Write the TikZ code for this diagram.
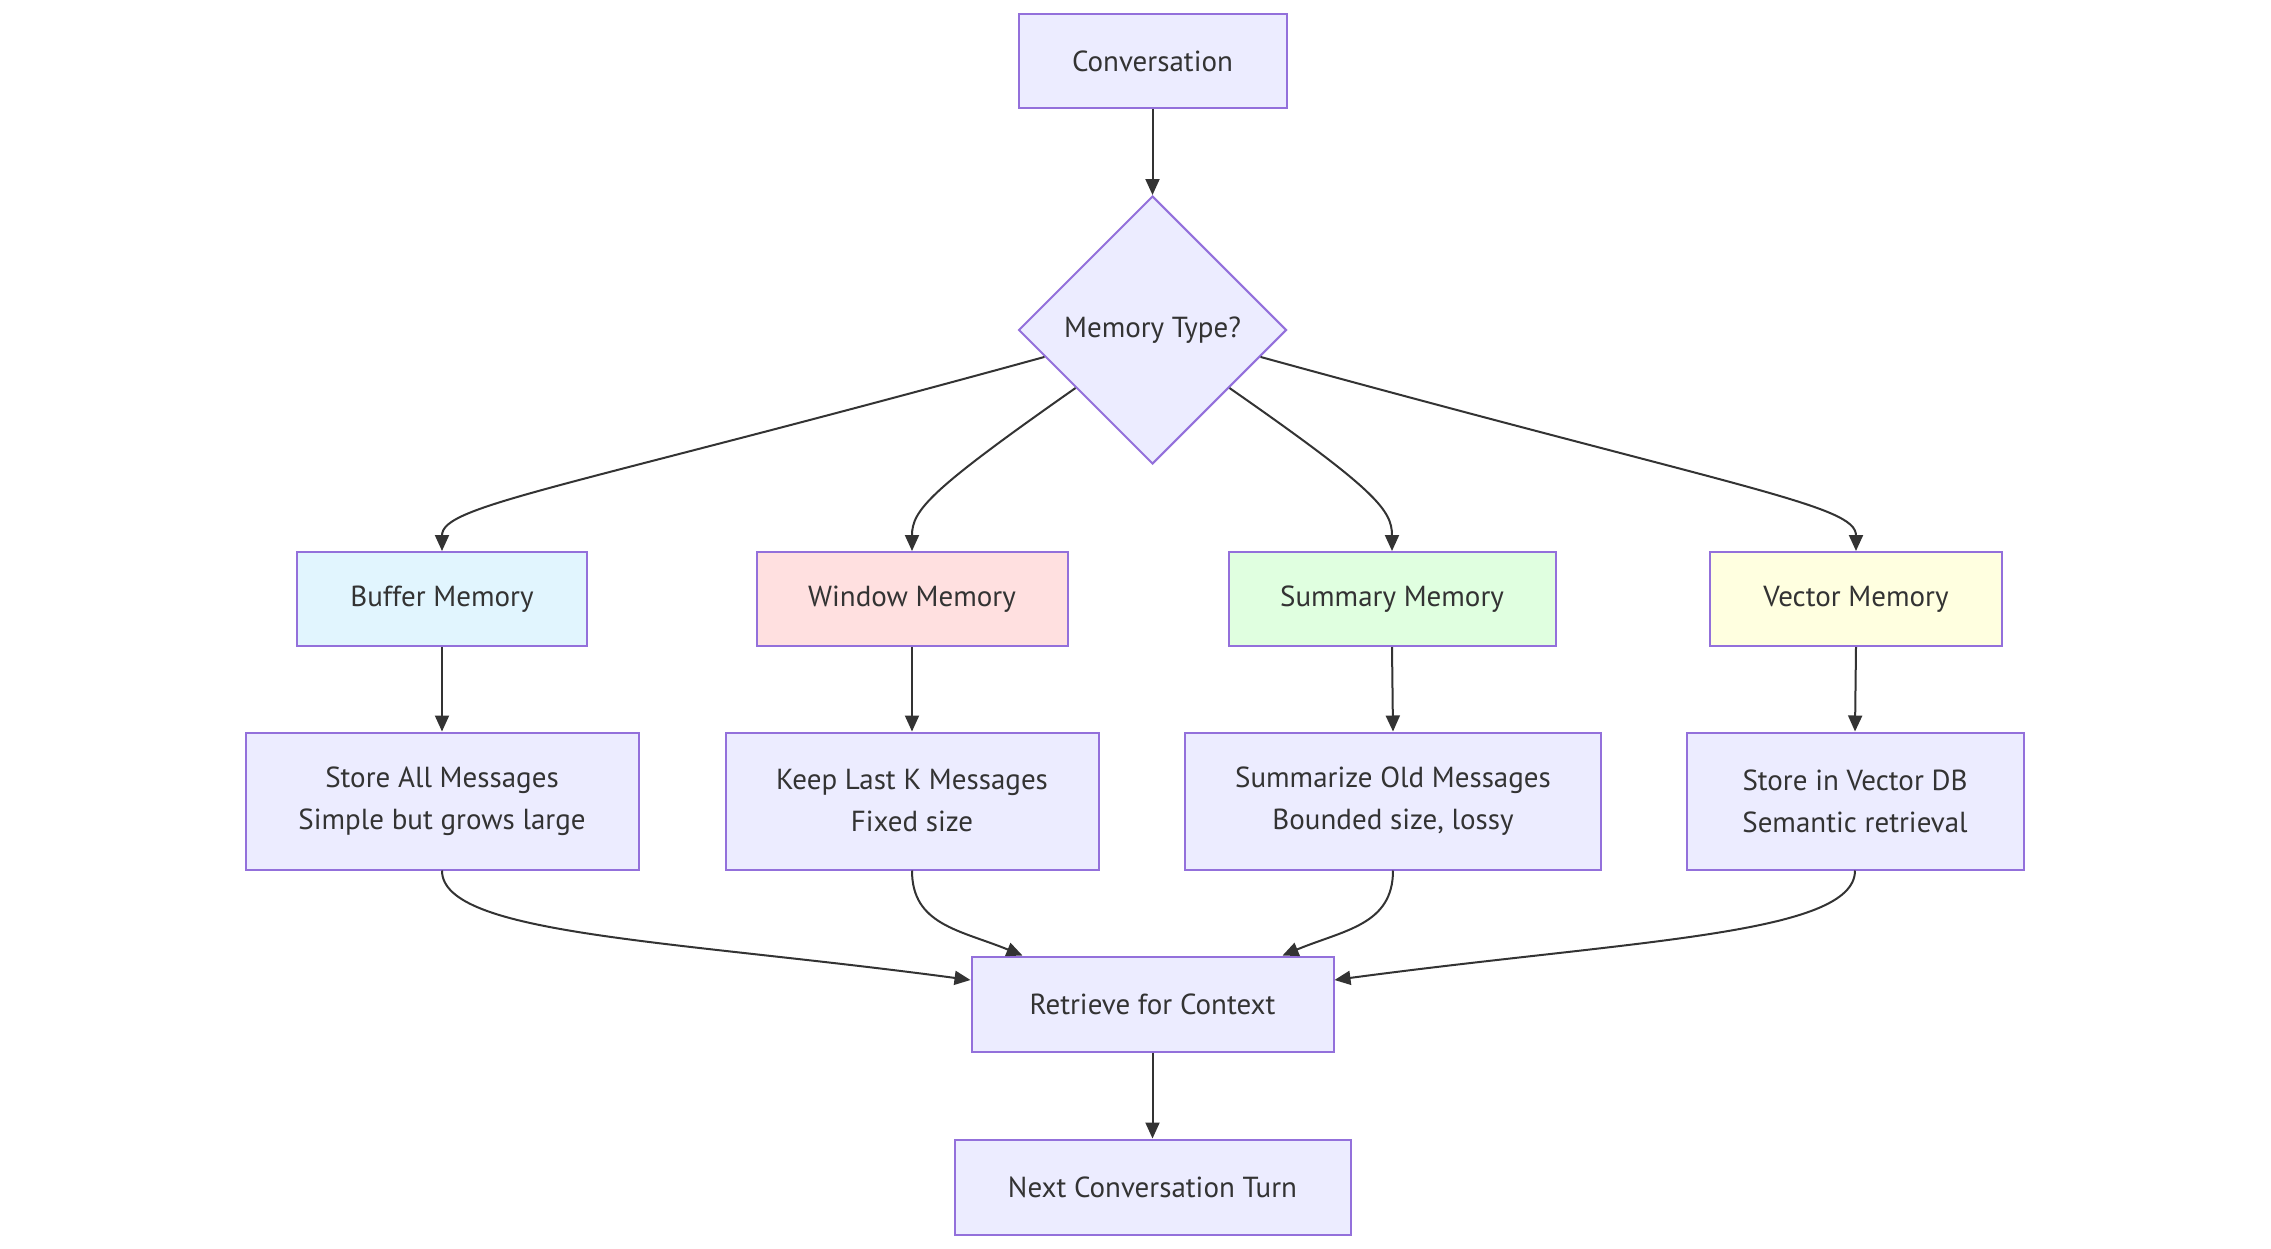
\documentclass[tikz,border=0pt]{standalone}
\usepackage{fontspec}
\setmainfont{PT Sans}
\usetikzlibrary{shapes.geometric,arrows.meta}
\definecolor{nodefill}{HTML}{ECECFF}
\definecolor{nodeline}{HTML}{9370DB}
\definecolor{edgecol}{HTML}{333333}
\definecolor{bufcol}{HTML}{E1F5FE}
\definecolor{wincol}{HTML}{FFE0E0}
\definecolor{sumcol}{HTML}{E0FFE0}
\definecolor{veccol}{HTML}{FFFFE0}
\tikzset{
  x=1pt,y=-1pt,
  box/.style={draw=nodeline,fill=nodefill,line width=2pt,rectangle,inner sep=0pt,
    text=edgecol,font=\fontsize{29}{42}\selectfont,align=center},
  choice/.style={draw=nodeline,fill=nodefill,line width=2pt,diamond,aspect=1,inner sep=0pt,
    minimum width=268pt,minimum height=268pt,text=edgecol,font=\fontsize{29}{42}\selectfont},
  conn/.style={draw=edgecol,line width=2pt,-{Triangle[length=16pt,width=14pt]}},
}
\begin{document}
\begin{tikzpicture}
\useasboundingbox (0,0) rectangle (2271,1248);
\node[box,minimum width=268pt,minimum height=94pt] (conv) at (1152.5,61) {Conversation};
\node[choice] (mt) at (1152.5,330) {Memory Type?};
\node[box,fill=bufcol,minimum width=290pt,minimum height=94pt] (buf) at (442,599) {Buffer Memory};
\node[box,fill=wincol,minimum width=311pt,minimum height=94pt] (win) at (912,599) {Window Memory};
\node[box,fill=sumcol,minimum width=327pt,minimum height=94pt] (sum) at (1392,599) {Summary Memory};
\node[box,fill=veccol,minimum width=292pt,minimum height=94pt] (vec) at (1856,599) {Vector Memory};
\node[box,minimum width=393pt,minimum height=137pt] (sall) at (442,801) {Store All Messages\\Simple but grows large};
\node[box,minimum width=373pt,minimum height=137pt] (keep) at (912,801) {Keep Last K Messages\\Fixed size};
\node[box,minimum width=416pt,minimum height=137pt] (summ) at (1393,801) {Summarize Old Messages\\Bounded size, lossy};
\node[box,minimum width=337pt,minimum height=137pt] (svec) at (1855,801) {Store in Vector DB\\Semantic retrieval};
\node[box,minimum width=362pt,minimum height=95pt] (ret) at (1152.5,1004) {Retrieve for Context};
\node[box,minimum width=396pt,minimum height=95pt] (next) at (1152.5,1187) {Next Conversation Turn};

\draw[conn] (conv.south) -- (mt.north);
\draw[conn] (mt.194) .. controls (560,490) and (442,505) .. (buf.north);
\draw[conn] (mt.217) .. controls (930,490) and (912,510) .. (win.north);
\draw[conn] (mt.323) .. controls (1376,490) and (1392,510) .. (sum.north);
\draw[conn] (mt.346) .. controls (1745,490) and (1856,505) .. (vec.north);
\draw[conn] (buf.south) -- (sall.north);
\draw[conn] (win.south) -- (keep.north);
\draw[conn] (sum.south) -- (summ.north);
\draw[conn] (vec.south) -- (svec.north);
\draw[conn] (sall.south) .. controls (442,935) and (671,940) .. ([yshift=24pt]ret.west);
\draw[conn] (keep.south) .. controls (912,925) and (960,930) .. ([xshift=-130pt]ret.north);
\draw[conn] (summ.south) .. controls (1393,925) and (1344,930) .. ([xshift=130pt]ret.north);
\draw[conn] (svec.south) .. controls (1855,935) and (1633,940) .. ([yshift=24pt]ret.east);
\draw[conn] (ret.south) -- (next.north);
\end{tikzpicture}
\end{document}
